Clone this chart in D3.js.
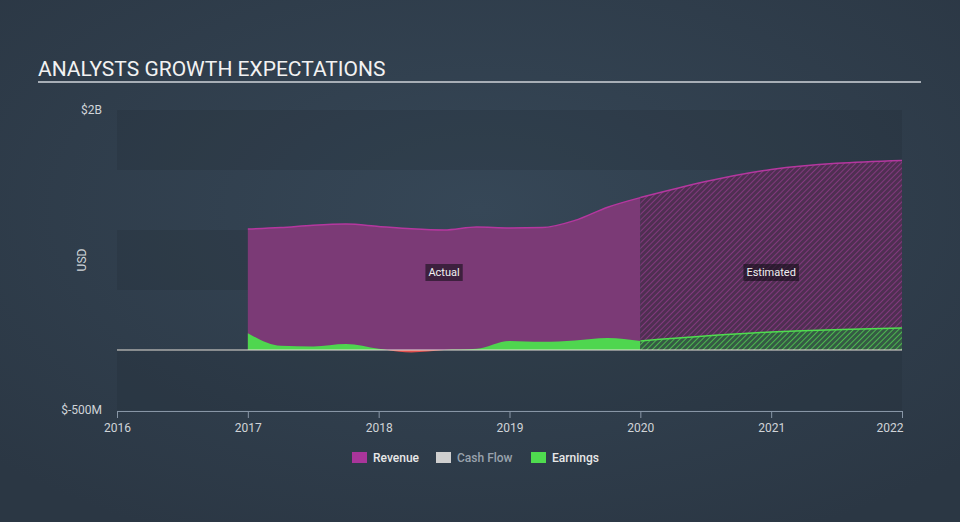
<!DOCTYPE html>
<html>
<head>
<meta charset="utf-8">
<script src="https://cdn.jsdelivr.net/npm/d3@7.9.0/dist/d3.min.js"></script>
<style>
  html, body { margin: 0; padding: 0; background: #323f4e; }
  svg { display: block; font-family: Roboto, 'Open Sans', sans-serif; }
</style>
</head>
<body>
<svg id="chart" width="960" height="522"></svg>
<script>
// actual values (fractional years, $B)
const actualDates = [2017.0, 2017.25, 2017.5, 2017.75, 2018.0, 2018.25, 2018.5, 2018.75, 2019.0, 2019.25, 2019.5, 2019.75, 2020.0];
const actualRevenue = [1.008, 1.02, 1.04, 1.05, 1.03, 1.01, 1.0, 1.025, 1.017, 1.02, 1.08, 1.19, 1.27];
const actualEarnings = [0.14, 0.035, 0.03, 0.05, 0.01, -0.02, 0.0, 0.01, 0.075, 0.068, 0.08, 0.1, 0.075];

// analyst estimates
const estDates = [2020.0, 2021.0, 2022.0];
const estRevenue = [1.27, 1.505, 1.58];
const estEarnings = [0.075, 0.15, 0.183];

const xTicks = [2016, 2017, 2018, 2019, 2020, 2021, 2022];
const bandEdges = [2, 1.5, 1, 0.5, 0, -0.5];
const yLabels = [[2, '$2B'], [-0.5, '$-500M']];
const legendItems = [
  { label: 'Revenue', color: '#a9359a', text: '#e8e8e8' },
  { label: 'Cash Flow', color: '#cfcfcf', text: '#9aa3ad' },
  { label: 'Earnings', color: '#4fdc4f', text: '#e8e8e8' },
];

const svg = d3.select('#chart');
const defs = svg.append('defs');

let x = d3.scaleLinear().domain([2016, 2022]).range([117, 902]);
let y = d3.scaleLinear().domain([-0.5, 2]).range([410, 110]);

// background
let bg = defs.append('radialGradient').attr('id', 'bg').attr('cx', '50%').attr('cy', '40%').attr('r', '70%');
bg.append('stop').attr('offset', '0%').attr('stop-color', '#364757');
bg.append('stop').attr('offset', '100%').attr('stop-color', '#2b3744');
svg.append('rect').attr('width', 960).attr('height', 522).attr('fill', 'url(#bg)');

// hatch patterns for estimates
function hatch(id, base, stripe) {
  let p = defs.append('pattern').attr('id', id)
    .attr('patternUnits', 'userSpaceOnUse').attr('width', 4).attr('height', 4)
    .attr('patternTransform', 'rotate(45)');
  p.append('rect').attr('width', 4).attr('height', 4).attr('fill', base);
  p.append('line').attr('x1', 0).attr('y1', 0).attr('x2', 0).attr('y2', 4)
    .attr('stroke', stripe).attr('stroke-width', 1.6);
}
hatch('hatchRev', '#4f2f52', '#8e3b88');
hatch('hatchEarn', '#355a44', '#52cf52');

// clip regions
function clip(id, x0, x1, y0, y1) {
  defs.append('clipPath').attr('id', id).append('rect')
    .attr('x', x0).attr('y', y0).attr('width', x1 - x0).attr('height', y1 - y0);
}
clip('pos', 0, 960, 0, y(0));
clip('neg', 0, 960, y(0), 522);

// bands
let plot = svg.append('g');
for (let i = 0; i < bandEdges.length - 1; i += 2) {
  plot.append('rect')
    .attr('x', x(2016)).attr('width', x(2022) - x(2016))
    .attr('y', y(bandEdges[i])).attr('height', y(bandEdges[i + 1]) - y(bandEdges[i]))
    .attr('fill', 'rgba(30,40,52,0.22)');
}

let zip = (ds, vs) => ds.map((d, i) => ({ d: d, v: vs[i] }));
let area = d3.area().x((p) => x(p.d)).y0(y(0)).y1((p) => y(p.v)).curve(d3.curveMonotoneX);
let line = d3.line().x((p) => x(p.d)).y((p) => y(p.v)).curve(d3.curveMonotoneX);

let revA = zip(actualDates, actualRevenue);
let revE = zip(estDates, estRevenue);
let earnA = zip(actualDates, actualEarnings);
let earnE = zip(estDates, estEarnings);

// revenue
plot.append('path').attr('d', area(revA)).attr('fill', '#7b3a76');
plot.append('path').attr('d', area(revE)).attr('fill', 'url(#hatchRev)');
plot.append('path').attr('d', line(revA)).attr('fill', 'none').attr('stroke', '#b5379f').attr('stroke-width', 1.5);
plot.append('path').attr('d', line(revE)).attr('fill', 'none').attr('stroke', '#b5379f').attr('stroke-width', 1.5);

// earnings
plot.append('path').attr('d', area(earnA)).attr('fill', '#4fd64f').attr('clip-path', 'url(#pos)');
plot.append('path').attr('d', area(earnA)).attr('fill', '#e2504f').attr('clip-path', 'url(#neg)');
plot.append('path').attr('d', area(earnE)).attr('fill', 'url(#hatchEarn)');
plot.append('path').attr('d', line(earnE)).attr('fill', 'none').attr('stroke', '#4fdc4f').attr('stroke-width', 1.5);

// zero line
plot.append('line')
  .attr('x1', x(2016)).attr('x2', x(2022)).attr('y1', y(0)).attr('y2', y(0))
  .attr('stroke', '#e6e0d8').attr('stroke-width', 1);

// region labels
function tag(text, cx) {
  let g = plot.append('g');
  let t = g.append('text').attr('x', cx).attr('y', y(0.65) + 4)
    .attr('text-anchor', 'middle').attr('font-size', 11).attr('fill', '#f0f0f0').text(text);
  let b = t.node().getBBox();
  g.insert('rect', 'text').attr('x', b.x - 3).attr('y', b.y - 2)
    .attr('width', b.width + 6).attr('height', b.height + 4).attr('fill', 'rgba(20,15,25,0.6)');
}
tag('Actual', x(2018.5));
tag('Estimated', x(2021));

// x axis
let xAxis = d3.axisBottom(x).tickValues(xTicks).tickFormat(d3.format('d')).tickSize(7).tickSizeOuter(0);
let gx = svg.append('g').attr('transform', `translate(0,${y(-0.5) + 1})`).call(xAxis);
gx.select('.domain').attr('stroke', '#8896a6');
gx.selectAll('.tick line').attr('stroke', '#8896a6');
gx.selectAll('.tick text').attr('fill', '#d0d4d8').attr('font-size', 12).attr('dy', '0.9em')
  .attr('font-family', 'Roboto, sans-serif')
  .attr('text-anchor', (d) => (d === 2022 ? 'end' : 'middle'))
  .attr('dx', (d) => (d === 2022 ? 1 : 0));

// y labels
yLabels.forEach(([v, s]) => {
  svg.append('text').attr('x', 102).attr('y', y(v) + 4)
    .attr('text-anchor', 'end').attr('font-size', 12).attr('fill', '#d0d4d8').text(s);
});
svg.append('text').attr('transform', `translate(86,260) rotate(-90)`)
  .attr('text-anchor', 'middle').attr('font-size', 12).attr('fill', '#d0d4d8').text('USD');

// title
svg.append('text').attr('x', 38).attr('y', 76).attr('font-size', 21).attr('fill', '#f2f2f2')
  .text('ANALYSTS GROWTH EXPECTATIONS');
svg.append('line').attr('x1', 38).attr('x2', 921).attr('y1', 82).attr('y2', 82)
  .attr('stroke', '#a7aeb6').attr('stroke-width', 2);

// legend
let legendX = [352, 436, 531];
legendItems.forEach((it, i) => {
  svg.append('rect').attr('x', legendX[i]).attr('y', 452).attr('width', 15).attr('height', 11)
    .attr('fill', it.color);
  svg.append('text').attr('x', legendX[i] + 21).attr('y', 462).attr('font-size', 12)
    .attr('font-weight', 500).attr('fill', it.text).text(it.label);
});
</script>
</body>
</html>
